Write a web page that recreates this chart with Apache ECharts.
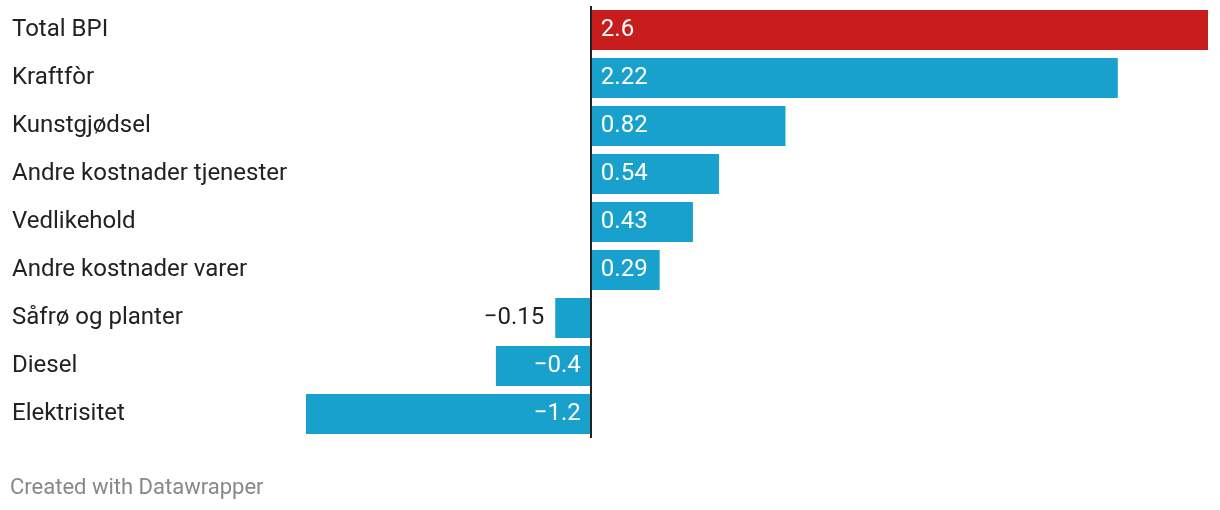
<!DOCTYPE html>
<html>
<head>
<meta charset="utf-8">
<script src="https://cdn.jsdelivr.net/npm/echarts@6/dist/echarts.min.js"></script>
<style>
html,body{margin:0;padding:0;background:#fff;}
#c{width:1220px;height:510px;}
</style>
</head>
<body>
<div id="c"></div>
<script>
const categories = ["Total BPI","Kraftfòr","Kunstgjødsel","Andre kostnader tjenester","Vedlikehold","Andre kostnader varer","Såfrø og planter","Diesel","Elektrisitet"];
const values = [2.6, 2.22, 0.82, 0.54, 0.43, 0.29, -0.15, -0.4, -1.2];
const highlighted = ["Total BPI"];

const FONT = 'Roboto, "Noto Sans", sans-serif';
const fmt = v => v < 0 ? '\u2212' + Math.abs(v) : String(v);
const BLUE = '#18a1cd', RED = '#c71e1d';

const data = values.map((v, i) => {
  const isHi = highlighted.includes(categories[i]);
  const small = v < 0 && Math.abs(v) < 0.3;
  let label;
  if (v >= 0) label = {position: 'insideLeft', distance: 10, color: '#fff'};
  else if (small) label = {position: 'left', distance: 11, color: '#222'};
  else label = {position: 'insideRight', distance: 10, color: '#fff'};
  return {value: v, itemStyle: {color: isHi ? RED : BLUE}, label: label};
});

const chart = echarts.init(document.getElementById('c'), null, {renderer: 'canvas'});
chart.setOption({
  animation: false,
  textStyle: {fontFamily: FONT},
  grid: {left: 306, right: 12, top: 6, height: 432, containLabel: false},
  xAxis: {
    type: 'value', min: -1.2, max: 2.6,
    show: false
  },
  yAxis: {
    type: 'category', data: categories, inverse: true,
    axisLine: {show: false}, axisTick: {show: false}, splitLine: {show: false},
    axisLabel: {
      margin: 294, align: 'left', fontSize: 24, color: '#222', fontFamily: FONT,
      padding: [4, 0, 0, 0]
    }
  },
  series: [{
    type: 'bar',
    data: data,
    barWidth: 40,
    label: {show: true, fontSize: 24, fontFamily: FONT, padding: [4, 0, 0, 0], formatter: p => fmt(p.value)},
    markLine: {
      silent: true, symbol: 'none', label: {show: false},
      lineStyle: {color: '#222', width: 2, type: 'solid'},
      data: [{xAxis: 0}]
    }
  }],
  graphic: [{
    type: 'text', x: 10, y: 488,
    style: {text: 'Created with Datawrapper', fontSize: 22, fill: '#888', fontFamily: FONT, verticalAlign: 'middle'}
  }]
});
</script>
</body>
</html>
